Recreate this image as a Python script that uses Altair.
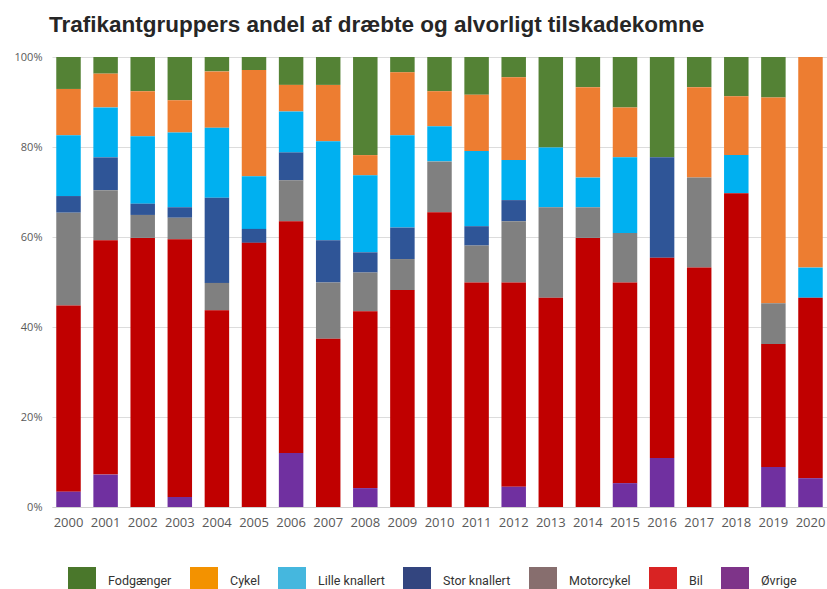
import altair as alt
import pandas as pd

years = [str(y) for y in range(2000, 2021)]
groups = ["Fodgænger", "Cykel", "Lille knallert", "Stor knallert", "Motorcykel", "Bil", "Øvrige"]

# percentages per year (2000..2020)
fodgaenger = [7.1, 3.7, 7.6, 9.6, 3.2, 2.9, 6.2, 6.2, 21.8, 3.4, 7.6, 8.4, 4.5, 20.1, 6.7, 11.2, 22.3, 6.7, 8.7, 9.0, 0]
cykel = [10.3, 7.5, 10.0, 7.2, 12.5, 23.6, 5.9, 12.5, 4.5, 14.0, 7.8, 12.5, 18.4, 0, 20.1, 11.1, 0, 20.1, 13.1, 45.7, 46.8]
lille_knallert = [13.5, 11.1, 15.0, 16.6, 15.6, 11.7, 9.1, 22.0, 17.1, 20.5, 7.8, 16.7, 8.9, 13.3, 6.6, 16.8, 0, 0, 8.5, 0, 6.7]
stor_knallert = [3.7, 7.3, 2.5, 2.3, 18.9, 3.1, 6.2, 9.4, 4.5, 7.0, 0, 4.3, 4.7, 0, 0, 0, 22.3, 0, 0, 0, 0]
motorcykel = [20.6, 11.1, 5.1, 4.8, 6.1, 0, 9.1, 12.5, 8.6, 6.9, 11.3, 8.2, 13.6, 20.1, 6.8, 11.0, 0, 20.0, 0, 9.1, 0]
bil = [41.4, 52.1, 59.8, 57.3, 43.7, 58.7, 51.5, 37.4, 39.3, 48.2, 65.5, 49.9, 45.4, 46.5, 59.8, 44.6, 44.5, 53.2, 69.7, 27.3, 40.1]
oevrige = [3.4, 7.2, 0, 2.2, 0, 0, 12.0, 0, 4.2, 0, 0, 0, 4.5, 0, 0, 5.3, 10.9, 0, 0, 8.9, 6.4]

bar_colors = ["#548235", "#ED7D31", "#00B0F0", "#2F5597", "#808080", "#C00000", "#7030A0"]
legend_colors = ["#4A772B", "#F39200", "#45B7DE", "#33457F", "#876E6E", "#D92323", "#7E3489"]

series = {
    "Fodgænger": fodgaenger,
    "Cykel": cykel,
    "Lille knallert": lille_knallert,
    "Stor knallert": stor_knallert,
    "Motorcykel": motorcykel,
    "Bil": bil,
    "Øvrige": oevrige,
}
stack_rank = {g: len(groups) - 1 - i for i, g in enumerate(groups)}

rows = []
for g in groups:
    for y, v in zip(years, series[g]):
        if v > 0:
            rows.append({"year": y, "group": g, "value": v, "rank": stack_rank[g]})
df = pd.DataFrame(rows)

# bar colour scale listed bottom-to-top (so it stays separate from the legend scale)
bar_domain = list(reversed(groups))
bar_range = list(reversed(bar_colors))

bars = alt.Chart(df).mark_bar().encode(
    x=alt.X(
        "year:O",
        title=None,
        scale=alt.Scale(paddingInner=0.34, paddingOuter=0.115),
        axis=alt.Axis(
            labelAngle=0, ticks=False, grid=False, domainColor="#d0d0d0",
            labelFont="Open Sans", labelFontSize=13, labelColor="#595959", labelPadding=9,
        ),
    ),
    y=alt.Y(
        "value:Q",
        stack="normalize",
        title=None,
        scale=alt.Scale(domain=[0, 1]),
        axis=alt.Axis(
            format=".0%", values=[0, 0.2, 0.4, 0.6, 0.8, 1.0], domain=False, ticks=False,
            gridColor="#dcdcdc", labelFont="Open Sans", labelFontSize=11,
            labelColor="#595959", labelPadding=10,
        ),
    ),
    color=alt.Color("group:N", scale=alt.Scale(domain=bar_domain, range=bar_range), legend=None),
    order=alt.Order("rank:Q", sort="ascending"),
)

legend_layer = alt.Chart(df).mark_square(filled=True, size=0).encode(
    fill=alt.Fill(
        "group:N",
        scale=alt.Scale(domain=groups, range=legend_colors),
        legend=alt.Legend(
            title=None, orient="none", legendX=16, legendY=510, direction="horizontal",
            values=groups, symbolType="square", symbolSize=784, symbolStrokeWidth=0,
            symbolOpacity=1, labelFont="Roboto", labelFontSize=12.5, labelColor="#333333",
            labelOffset=12, columnPadding=18, padding=0,
        ),
    )
)

chart = alt.layer(bars, legend_layer).properties(
    width=775,
    height=450,
    autosize=alt.AutoSizeParams(type="none"),
    padding={"left": 52, "top": 57, "right": 0, "bottom": 82},
    title=alt.TitleParams(
        "Trafikantgruppers andel af dræbte og alvorligt tilskadekomne",
        anchor="start", font="Liberation Sans", fontSize=22.5, fontWeight="bold",
        color="#262626", offset=15, dx=35,
    ),
).configure_view(stroke=None)

chart.save("out.html", embed_options={"renderer": "svg", "actions": False})
